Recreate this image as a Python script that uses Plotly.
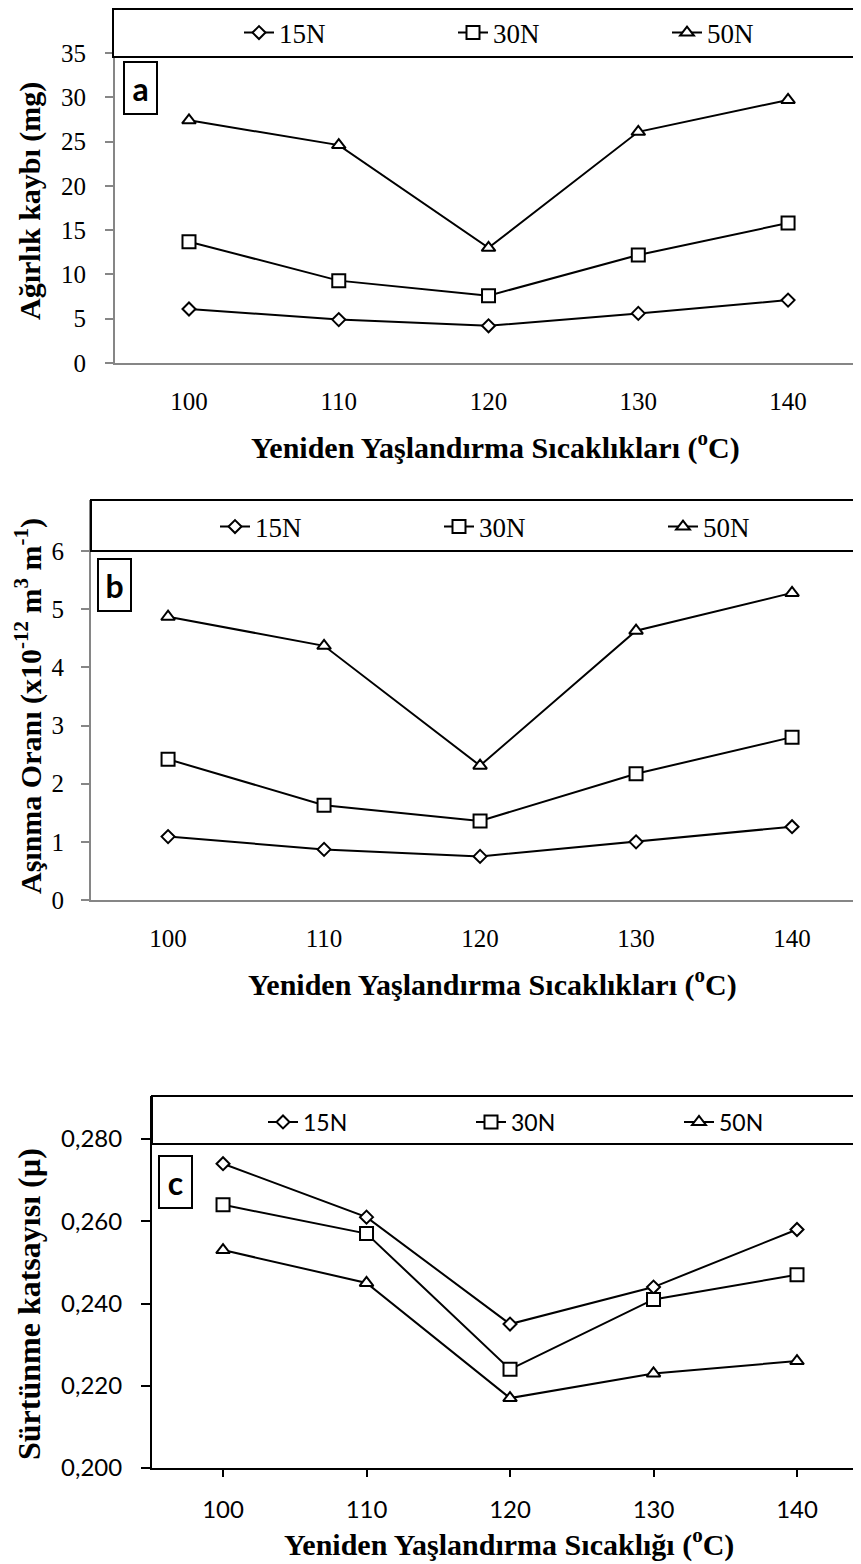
import plotly.graph_objects as go

# ---------------- data ----------------
temps = [100, 110, 120, 130, 140]
tick_text = ["100", "110", "120", "130", "140"]
series_names = ["15N", "30N", "50N"]

weight_loss_15N = [6.1, 4.9, 4.2, 5.6, 7.1]
weight_loss_30N = [13.7, 9.3, 7.6, 12.2, 15.8]
weight_loss_50N = [27.4, 24.6, 13.0, 26.1, 29.7]

wear_rate_15N = [1.09, 0.87, 0.75, 1.00, 1.26]
wear_rate_30N = [2.42, 1.63, 1.36, 2.17, 2.80]
wear_rate_50N = [4.87, 4.37, 2.31, 4.63, 5.28]

friction_15N = [0.274, 0.261, 0.235, 0.244, 0.258]
friction_30N = [0.264, 0.257, 0.224, 0.241, 0.247]
friction_50N = [0.253, 0.245, 0.217, 0.223, 0.226]

yticks_a = [0, 5, 10, 15, 20, 25, 30, 35]
yticks_b = [0, 1, 2, 3, 4, 5, 6]
yticks_c = [0.200, 0.220, 0.240, 0.260, 0.280]
yticktext_c = ["0,200", "0,220", "0,240", "0,260", "0,280"]

# ---------------- geometry helpers ----------------
# the page body has an 8px margin, so the figure is made 8px smaller
# and page-pixel positions are converted into figure fractions
OFF = 8
W, H = 861 - OFF, 1564 - OFF


def px(x):
    return (x - OFF) / W


def py(y):
    return min(1.0, 1 - (y - OFF) / H)


SERIF = "Liberation Serif"
SANS = "Lato"
symbols = ["diamond", "square", "triangle-up"]
sizes = [10, 13, 12]

fig = go.Figure()

panels = [
    dict(key="", data=[weight_loss_15N, weight_loss_30N, weight_loss_50N], legend="legend"),
    dict(key="2", data=[wear_rate_15N, wear_rate_30N, wear_rate_50N], legend="legend2"),
    dict(key="3", data=[friction_15N, friction_30N, friction_50N], legend="legend3"),
]

for p in panels:
    for name, vals, sym, sz in zip(series_names, p["data"], symbols, sizes):
        fig.add_trace(go.Scatter(
            x=temps, y=vals, name=name, mode="lines+markers",
            xaxis="x" + p["key"], yaxis="y" + p["key"],
            legend=p["legend"],
            line=dict(color="black", width=2),
            marker=dict(symbol=sym, size=sz, color="white",
                        line=dict(color="black", width=2)),
            cliponaxis=False,
        ))

GRAY = "#868686"

fig.update_layout(
    xaxis=dict(domain=[px(115), 1], range=[95.06, 144.87], tickvals=temps, ticktext=tick_text,
               showline=True, linecolor=GRAY, linewidth=2, ticks="", showgrid=False, zeroline=False,
               tickfont=dict(family=SERIF, size=25, color="black"), ticklabelstandoff=15,
               anchor="y"),
    yaxis=dict(domain=[py(363), py(8)], range=[0, 40.08], tickvals=yticks_a,
               showline=True, linecolor=GRAY, linewidth=2, ticks="outside", ticklen=8,
               tickcolor=GRAY, tickwidth=2, showgrid=False, zeroline=False,
               tickfont=dict(family=SERIF, size=25, color="black"), ticklabelstandoff=14,
               anchor="x"),
    xaxis2=dict(domain=[px(91), 1], range=[95.06, 144.42], tickvals=temps, ticktext=tick_text,
                showline=True, linecolor=GRAY, linewidth=2, ticks="", showgrid=False, zeroline=False,
                tickfont=dict(family=SERIF, size=25, color="black"), ticklabelstandoff=15,
                anchor="y2"),
    yaxis2=dict(domain=[py(900), py(500)], range=[0, 6.877], tickvals=yticks_b,
                showline=True, linecolor=GRAY, linewidth=2, ticks="outside", ticklen=8,
                tickcolor=GRAY, tickwidth=2, showgrid=False, zeroline=False,
                tickfont=dict(family=SERIF, size=25, color="black"), ticklabelstandoff=12,
                anchor="x2"),
    xaxis3=dict(domain=[px(152), 1], range=[95.05, 144.46], tickvals=temps, ticktext=tick_text,
                showline=True, linecolor="black", linewidth=2, ticks="outside", ticklen=7,
                tickcolor="black", tickwidth=2, showgrid=False, zeroline=False,
                tickfont=dict(family=SANS, size=24, color="black"), ticklabelstandoff=12,
                anchor="y3"),
    yaxis3=dict(domain=[py(1468), py(1096)], range=[0.2, 0.29046], tickvals=yticks_c,
                ticktext=yticktext_c,
                showline=True, linecolor="black", linewidth=2, ticks="outside", ticklen=9,
                tickcolor="black", tickwidth=2, showgrid=False, zeroline=False,
                tickfont=dict(family=SANS, size=24, color="black"), ticklabelstandoff=14,
                anchor="x3"),
)

# legend boxes (drawn over the top part of each plot area)
for (x0, y0, y1) in [(113, 9, 57), (91, 500, 551), (152, 1096, 1144)]:
    fig.add_shape(type="rect", xref="paper", yref="paper",
                  x0=px(x0), x1=1.02, y0=py(y1), y1=py(y0),
                  line=dict(color="black", width=2), fillcolor="white", layer="above")

legend_common = dict(orientation="h", xanchor="left", yanchor="middle",
                     bgcolor="rgba(0,0,0,0)", borderwidth=0,
                     entrywidthmode="pixels", itemclick=False, itemdoubleclick=False)
fig.update_layout(
    legend=dict(x=px(239), y=py(33), font=dict(family=SERIF, size=27, color="black"),
                entrywidth=169, **legend_common),
    legend2=dict(x=px(215), y=py(527), font=dict(family=SERIF, size=27, color="black"),
                 entrywidth=179, **legend_common),
    legend3=dict(x=px(263), y=py(1122), font=dict(family=SANS, size=23, color="black"),
                 entrywidth=163, **legend_common),
)

# panel labels
for (cx, cy, txt) in [(140.5, 88, "a"), (114, 584.5, "b"), (175.5, 1181.5, "c")]:
    fig.add_annotation(x=px(cx), y=py(cy), xref="paper", yref="paper", text="<b>%s</b>" % txt,
                       showarrow=False, font=dict(family=SANS, size=32, color="black"),
                       bordercolor="black", borderwidth=2, borderpad=1, bgcolor="white",
                       width=29, height=48, xanchor="center", yanchor="middle")

# axis titles
titles = [
    (495, 446, 0, "Yeniden Yaşlandırma Sıcaklıkları (<sup>o</sup>C)", 30),
    (30, 201, -90, "Ağırlık kaybı (mg)", 30),
    (492, 982, 0, "Yeniden Yaşlandırma Sıcaklıkları (<sup>o</sup>C)", 30),
    (29, 706, -90, "Aşınma Oranı (x10<sup>-12</sup> m<sup>3</sup> m<sup>-1</sup>)", 30),
    (509, 1542, 0, "Yeniden Yaşlandırma Sıcaklığı (<sup>o</sup>C)", 30),
    (29, 1304, -90, "Sürtünme katsayısı (µ)", 32),
]
for (cx, cy, ang, txt, fs) in titles:
    fig.add_annotation(x=px(cx), y=py(cy), xref="paper", yref="paper", text="<b>%s</b>" % txt,
                       showarrow=False, textangle=ang,
                       font=dict(family=SERIF, size=fs, color="black"),
                       xanchor="center", yanchor="middle")

fig.update_layout(
    width=W, height=H, margin=dict(l=0, r=0, t=0, b=0, autoexpand=False),
    paper_bgcolor="white", plot_bgcolor="white", showlegend=True,
)

fig.write_html("out.html")
